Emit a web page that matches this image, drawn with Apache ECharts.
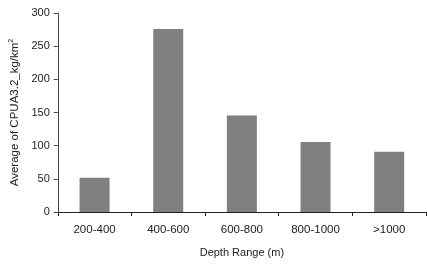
<!DOCTYPE html>
<html><head><meta charset="utf-8">
<script src="https://cdn.jsdelivr.net/npm/echarts@6/dist/echarts.min.js"></script>
<style>html,body{margin:0;padding:0;background:#fff}#c{width:427px;height:269px}</style>
</head><body><div id="c"></div>
<script>
const categories = ['200-400','400-600','600-800','800-1000','>1000'];
const values = [51.5, 276, 145.5, 105.5, 91];
const yTicks = [0,50,100,150,200,250,300];

const chart = echarts.init(document.getElementById('c'));
chart.setOption({
  animation:false,
  backgroundColor:'#fff',
  grid:{left:49,top:13,right:1,bottom:57,containLabel:false},
  xAxis:{type:'category',data:categories,
    axisLine:{lineStyle:{color:'#222',width:1}},
    axisTick:{show:true,alignWithLabel:false,length:4,lineStyle:{color:'#222'}},
    axisLabel:{color:'#222',fontSize:11.5,fontFamily:'Liberation Sans, Arial',margin:12},
    name:'Depth Range (m)',nameLocation:'middle',nameGap:35,
    nameTextStyle:{color:'#222',fontSize:11,fontFamily:'Liberation Sans, Arial'}},
  yAxis:{type:'value',min:yTicks[0],max:yTicks[yTicks.length-1],interval:50,
    axisLine:{show:true,lineStyle:{color:'#444'}},
    axisTick:{show:true,length:4,lineStyle:{color:'#444'}},
    splitLine:{show:false},
    axisLabel:{color:'#222',fontSize:11,fontFamily:'Liberation Sans, Arial',margin:8},
    name:'{a|Average of CPUA3.2_kg/km}{s|2}',nameLocation:'middle',nameGap:36,
    nameTextStyle:{color:'#222',fontSize:11.5,fontFamily:'Liberation Sans, Arial',
      rich:{a:{fontSize:11.5,color:'#222',fontFamily:'Liberation Sans, Arial'},
            s:{fontSize:7,color:'#222',verticalAlign:'top',fontFamily:'Liberation Sans, Arial',padding:[0,0,6,0]}}}},
  series:[{type:'bar',data:values,barWidth:30,itemStyle:{color:'#808080'}}]
});
</script></body></html>
